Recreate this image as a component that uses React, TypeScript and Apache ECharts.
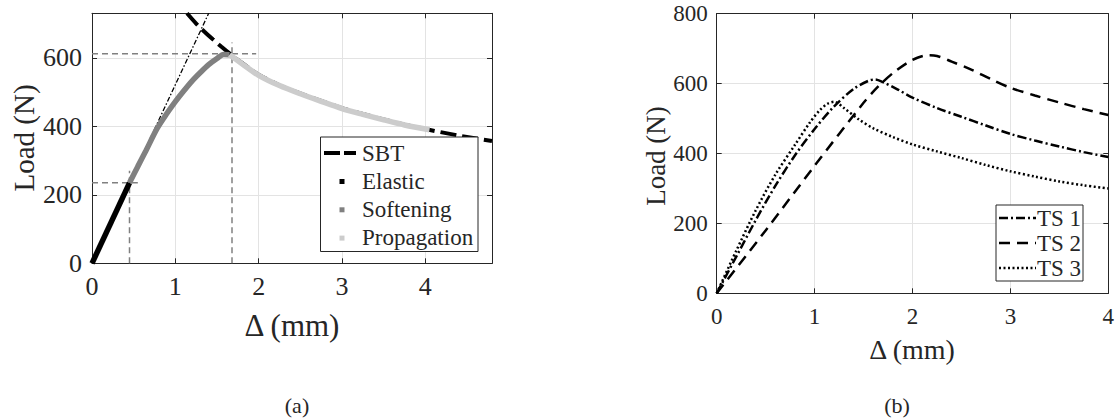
import React, { useEffect, useRef } from "react";
import * as echarts from "echarts";

const FONT = "'Liberation Serif', 'Times New Roman', serif";
const AX = "#262626";
const GRID = "#e3e3e3";

// ---------- (a) ----------
const sbtCurve: number[][] = [
  [1.14, 730], [1.25, 700], [1.35, 676], [1.45, 654], [1.55, 633], [1.65, 613],
  [1.8, 585], [2.0, 551], [2.25, 520], [2.5, 496], [2.75, 474], [3.0, 453],
  [3.25, 436], [3.5, 420], [3.75, 405], [4.0, 392], [4.4, 373], [4.8, 357],
];
const elasticBranch: number[][] = [[0, 0], [0.45, 235]];
const softeningBranch: number[][] = [
  [0.45, 235], [0.55, 283], [0.65, 330], [0.78, 393], [0.9, 438], [1.0, 472],
  [1.1, 503], [1.2, 532], [1.3, 557], [1.4, 580], [1.5, 598], [1.58, 610], [1.65, 609],
];
const propagationBranch: number[][] = [
  [1.65, 609], [1.8, 583], [2.0, 549], [2.25, 519], [2.5, 495], [2.75, 473],
  [3.0, 452], [3.25, 435], [3.5, 419], [3.75, 404], [4.05, 390],
];
const elasticTangent: number[][] = [[0, 0], [1.4, 730]];
const guideElasticH: number[][] = [[0, 235], [0.55, 235]];
const guideElasticV: number[][] = [[0.45, 0], [0.45, 270]];
const guidePeakH: number[][] = [[0, 612], [1.97, 612]];
const guidePeakV: number[][] = [[1.68, 0], [1.68, 645]];
const legendA = ["SBT", "Elastic", "Softening", "Propagation"];

// ---------- (b) ----------
const ts1: number[][] = [
  [0, 0], [0.2, 105], [0.4, 210], [0.6, 308], [0.8, 395], [1.0, 470], [1.2, 535],
  [1.4, 585], [1.55, 608], [1.62, 612], [1.7, 604], [1.85, 583], [2.0, 560],
  [2.25, 530], [2.5, 505], [2.75, 480], [3.0, 456], [3.25, 437], [3.5, 420],
  [3.75, 404], [4.0, 390],
];
const ts2: number[][] = [
  [0, 0], [0.5, 180], [1.0, 365], [1.5, 545], [1.65, 592], [1.8, 630], [1.95, 660],
  [2.05, 674], [2.15, 681], [2.25, 679], [2.4, 663], [2.6, 640], [2.8, 613],
  [3.0, 588], [3.25, 566], [3.5, 546], [3.75, 527], [4.0, 510],
];
const ts3: number[][] = [
  [0, 0], [0.2, 122], [0.4, 238], [0.6, 340], [0.8, 425], [0.95, 488], [1.05, 523],
  [1.13, 542], [1.2, 548], [1.3, 530], [1.45, 498], [1.6, 472], [1.8, 447],
  [2.0, 426], [2.25, 406], [2.5, 387], [2.75, 367], [3.0, 349], [3.25, 334],
  [3.5, 320], [3.75, 309], [4.0, 300],
];
const legendB = ["TS 1", "TS 2", "TS 3"];

const stepLabel = (step: number) => (v: number) =>
  Math.abs(v / step - Math.round(v / step)) < 1e-9 ? String(v) : "";

function axis(gi: number, pos: string, min: number, max: number, interval: number, labels: boolean, size: number, margin: number) {
  return {
    type: "value",
    gridIndex: gi,
    position: pos,
    min,
    max,
    interval,
    axisLine: { show: true, onZero: false, lineStyle: { color: AX, width: 1 } },
    axisTick: { show: true, inside: true, length: 5, lineStyle: { color: AX, width: 1 } },
    axisLabel: labels
      ? { show: true, color: AX, fontFamily: FONT, fontSize: size, margin, formatter: stepLabel(interval) }
      : { show: false },
    splitLine: { show: labels, lineStyle: { color: GRID, width: 1 } },
  };
}

function line(data: number[][], xi: number, yi: number, color: string, width: number, type: any, smooth: number | boolean = false) {
  return {
    type: "line",
    data,
    xAxisIndex: xi,
    yAxisIndex: yi,
    symbol: "none",
    showSymbol: false,
    smooth,
    silent: true,
    lineStyle: { color, width, type, cap: "butt" },
  };
}

function txt(text: string, x: number, y: number, size: number, rotation = 0, align = "center") {
  return {
    type: "text",
    x,
    y,
    rotation,
    silent: true,
    style: {
      text,
      fill: AX,
      font: `${size}px ${FONT}`,
      textAlign: align,
      textVerticalAlign: "middle",
      align,
      verticalAlign: "middle",
    },
  };
}

export default function App() {
  const ref = useRef<HTMLDivElement>(null);
  useEffect(() => {
    if (!ref.current) return;
    const chart = echarts.init(ref.current, undefined, { renderer: "svg" });

    const legendAColors = ["#000000", "#000000", "#808080", "#cccccc"];
    const legendBTypes: any[] = [[9, 3, 2, 3], [11, 7], [2, 2.5]];

    const graphic: any[] = [
      txt("Load (N)", 23.5, 138, 29, Math.PI / 2),
      txt("Δ (mm)", 292, 325, 31),
      txt("Load (N)", 656, 156, 27, Math.PI / 2),
      txt("Δ (mm)", 912, 349, 28),
      txt("(a)", 297, 405, 22),
      txt("(b)", 897, 405, 22),
      // legend (a)
      {
        type: "rect",
        shape: { x: 320.5, y: 137, width: 157.5, height: 114.5 },
        style: { fill: "#ffffff", stroke: AX, lineWidth: 1 },
        z: 10,
      },
      {
        type: "line",
        shape: { x1: 324, y1: 153, x2: 356, y2: 153 },
        style: { stroke: "#000000", lineWidth: 4, lineDash: [16, 4] },
        z: 11,
      },
      ...legendA.slice(1).map((_, i) => ({
        type: "rect",
        shape: { x: 339.5, y: 179 + i * 28.3, width: 5, height: 5 },
        style: { fill: legendAColors[i + 1] },
        z: 11,
      })),
      ...legendA.map((t, i) => ({ ...txt(t, 362, 153 + i * 28.3, 23, 0, "left"), z: 11 })),
      // legend (b)
      {
        type: "rect",
        shape: { x: 996, y: 205, width: 87, height: 76 },
        style: { fill: "#ffffff", stroke: AX, lineWidth: 1 },
        z: 10,
      },
      ...legendB.map((_, i) => ({
        type: "line",
        shape: { x1: 999, y1: 218 + i * 25, x2: 1036, y2: 218 + i * 25 },
        style: { stroke: "#000000", lineWidth: 2.5, lineDash: legendBTypes[i] },
        z: 11,
      })),
      ...legendB.map((t, i) => ({ ...txt(t, 1037, 218 + i * 25, 23, 0, "left"), z: 11 })),
    ];

    chart.setOption({
      animation: false,
      backgroundColor: "#ffffff",
      grid: [
        { left: 92, top: 13.3, width: 400, height: 250, containLabel: false, outerBoundsMode: "none" },
        { left: 716.7, top: 13.7, width: 391.6, height: 279.6, containLabel: false, outerBoundsMode: "none" },
      ],
      xAxis: [
        axis(0, "bottom", 0, 4.8, 1, true, 26, 10),
        axis(0, "top", 0, 4.8, 1, false, 26, 10),
        axis(1, "bottom", 0, 4, 1, true, 23, 12),
        axis(1, "top", 0, 4, 1, false, 23, 12),
      ],
      yAxis: [
        axis(0, "left", 0, 730, 200, true, 26, 10),
        axis(0, "right", 0, 730, 200, false, 26, 10),
        axis(1, "left", 0, 800, 200, true, 23, 9),
        axis(1, "right", 0, 800, 200, false, 23, 9),
      ],
      series: [
        line(guideElasticH, 0, 0, "#808080", 1.5, [6, 4]),
        line(guideElasticV, 0, 0, "#808080", 1.5, [6, 4]),
        line(guidePeakH, 0, 0, "#808080", 1.5, [6, 4]),
        line(guidePeakV, 0, 0, "#808080", 1.5, [6, 4]),
        line(elasticTangent, 0, 0, "#000000", 1.3, [5, 2, 1.5, 2]),
        line(sbtCurve, 0, 0, "#000000", 4, [16, 6], 0.3),
        line(elasticBranch, 0, 0, "#000000", 5.5, "solid"),
        line(softeningBranch, 0, 0, "#808080", 5.5, "solid", 0.3),
        line(propagationBranch, 0, 0, "#cccccc", 5.5, "solid", 0.3),
        line(ts1, 2, 2, "#000000", 2.5, legendBTypes[0], 0.3),
        line(ts2, 2, 2, "#000000", 2.5, legendBTypes[1], 0.3),
        line(ts3, 2, 2, "#000000", 2.5, legendBTypes[2], 0.3),
      ],
      graphic,
    });
    return () => chart.dispose();
  }, []);

  return (
    <div
      ref={ref}
      style={{ position: "fixed", left: 0, top: 0, width: 1115, height: 420, background: "#fff" }}
    />
  );
}
